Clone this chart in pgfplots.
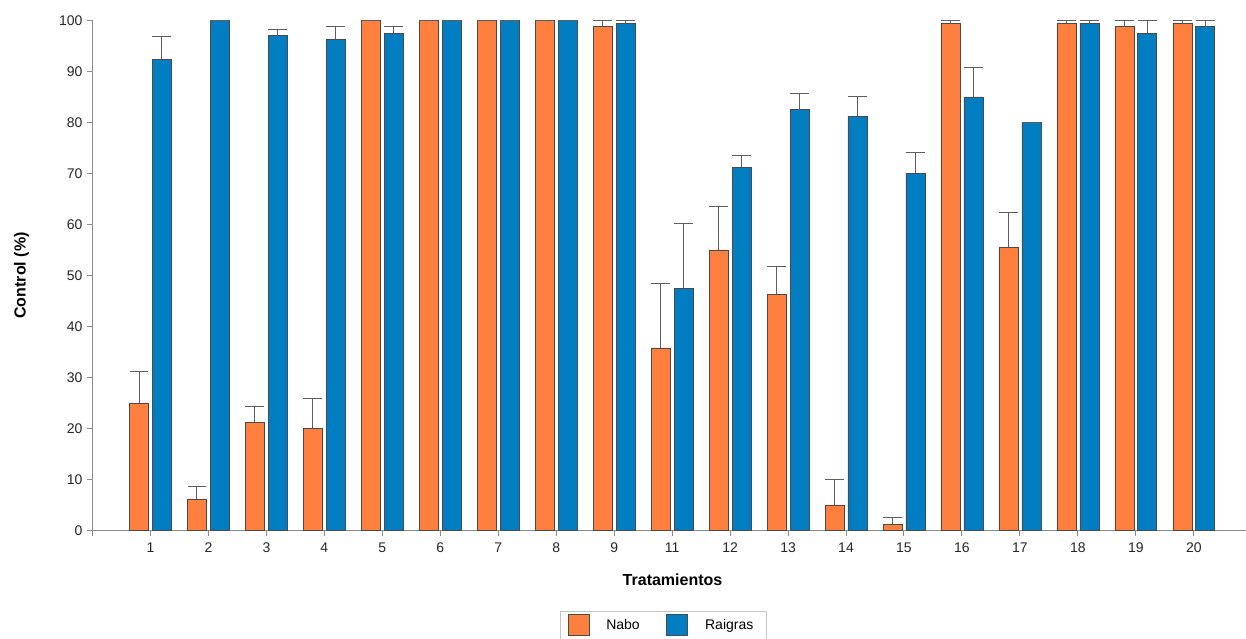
\documentclass[border=0pt]{standalone}
\usepackage{pgfplots}
\usepackage{pgfplotstable}
\pgfplotsset{compat=1.18}
\usepackage{fontspec}
\setmainfont{Liberation Sans}
\definecolor{nabo}{HTML}{FF7F3F}
\definecolor{raigras}{HTML}{007EC1}
\definecolor{axisgray}{HTML}{8C8C8C}
\definecolor{barline}{HTML}{4A4A4A}
\definecolor{errgray}{HTML}{5E5E5E}
\pgfplotstableread{
idx cat nabo naboerr rai raierr
0 1 25.0 6.1 92.4 4.4
1 2 6.2 2.4 100 0
2 3 21.2 3.1 97.0 1.2
3 4 20.0 5.8 96.3 2.5
4 5 100 0 97.5 1.4
5 6 100 0 100 0
6 7 100 0 100 0
7 8 100 0 100 0
8 9 98.8 1.2 99.4 0.6
9 11 35.8 12.7 47.5 12.7
10 12 55.0 8.6 71.2 2.4
11 13 46.3 5.5 82.5 3.2
12 14 5.0 5.0 81.2 3.8
13 15 1.2 1.3 70.0 4.1
14 16 99.4 0.6 85.0 5.7
15 17 55.5 6.9 80.0 0
16 18 99.5 0.5 99.5 0.5
17 19 98.8 1.2 97.5 2.5
18 20 99.5 0.5 98.8 1.2
}\datatable
\begin{document}
\begin{tikzpicture}
\useasboundingbox (0,0) rectangle (934.5pt,479.25pt);
\begin{axis}[
  at={(69.4pt,81.4pt)}, anchor=south west,
  width=865.5pt, height=382.5pt, scale only axis,
  ybar, bar width=14.25pt,
  xmin=-1, xmax=18.91, ymin=0, ymax=100,
  axis lines*=left,
  axis line style={-, draw=axisgray, line width=0.75pt},
  tick style={draw=axisgray, line width=0.75pt},
  tick align=outside, major tick length=4pt,
  xtick={0,...,18},
  xticklabels from table={\datatable}{cat},
  extra x ticks={-1}, extra x tick labels={},
  ytick={0,10,...,100},
  /pgf/number format/assume math mode=true,
  tick label style={font=\fontsize{10.5}{12}\selectfont, text=black!85},
  x tick label style={yshift=-1.6pt},
  xlabel={Tratamientos}, ylabel={Control (\%)},
  every axis x label/.style={at={(axis description cs:0.5026,-0.097)}, anchor=center, font=\bfseries\fontsize{12}{14}\selectfont},
  every axis y label/.style={at={(axis description cs:-0.0615,0.5)}, rotate=90, anchor=center, font=\bfseries\fontsize{12}{14}\selectfont},
  legend columns=2,
  legend style={at={(axis description cs:0.4054,-0.157)}, anchor=north west,
    draw=gray!45, line width=0.75pt, inner xsep=5pt, inner ysep=2.5pt,
    font=\fontsize{10.5}{12}\selectfont,
    nodes={inner sep=0pt},
    /tikz/every odd column/.append style={column sep=12.8pt},
    /tikz/every even column/.append style={column sep=20pt}},
]
\addplot[bar shift=-8.6pt, fill=nabo, draw=barline, line width=0.5pt,
  forget plot,
  error bars/.cd, y dir=plus, y explicit,
  error bar style={draw=errgray, line width=0.75pt},
  error mark options={rotate=90, draw=errgray, line width=0.75pt, mark size=7.1pt}]
  table[x=idx, y=nabo, y error=naboerr]{\datatable};
\addplot[bar shift=8.6pt, fill=raigras, draw=barline, line width=0.5pt,
  forget plot,
  error bars/.cd, y dir=plus, y explicit,
  error bar style={draw=errgray, line width=0.75pt},
  error mark options={rotate=90, draw=errgray, line width=0.75pt, mark size=7.1pt}]
  table[x=idx, y=rai, y error=raierr]{\datatable};
\addlegendimage{legend image code/.code={\draw[fill=nabo, draw=barline, line width=0.5pt] (0pt,-7.875pt) rectangle (15.75pt,7.875pt);}}
\addlegendentry{Nabo}
\addlegendimage{legend image code/.code={\draw[fill=raigras, draw=barline, line width=0.5pt] (0pt,-7.875pt) rectangle (15.75pt,7.875pt);}}
\addlegendentry{Raigras\rule{4.5pt}{0pt}}
\end{axis}
\end{tikzpicture}
\end{document}
